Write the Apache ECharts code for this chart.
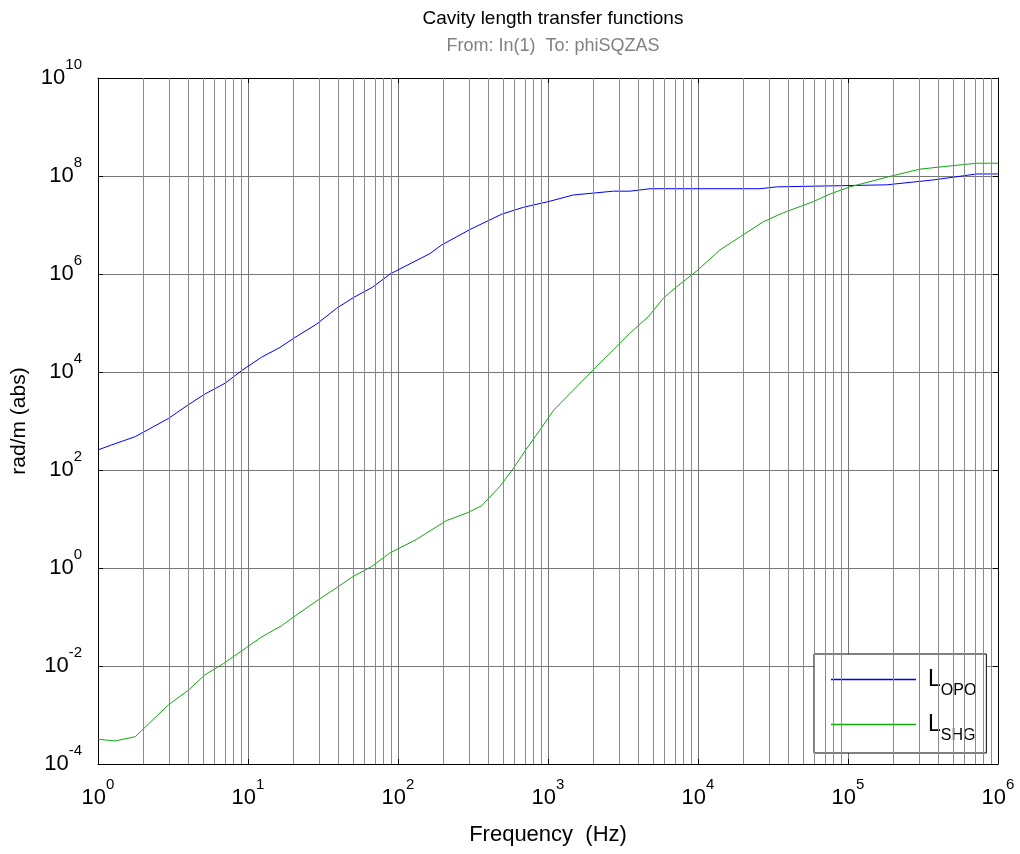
<!DOCTYPE html>
<html><head><meta charset="utf-8">
<script src="https://cdn.jsdelivr.net/npm/echarts@6/dist/echarts.min.js"></script>
<style>html,body{margin:0;padding:0;background:#fff}#c{width:1020px;height:854px}</style>
</head><body><div id="c"></div>
<script>
const titleText = 'Cavity length transfer functions';
const subtitleText = 'From: In(1)  To: phiSQZAS';
const xAxisName = 'Frequency  (Hz)';
const yAxisName = 'rad/m (abs)';
const seriesNames = ['L_OPO', 'L_SHG'];

// L_OPO transfer function magnitude
const opoFreq = [1, 1.23, 1.77, 2.94, 4.0, 5.16, 7.03, 9.08, 12.3, 16.3, 20.6, 28.7, 39.0, 50.4, 67.8, 88.5, 163, 195, 302, 491, 686, 1005, 1476, 2730, 3520, 4790, 25900, 33400, 181000, 369000, 721000, 1000000];
const opoMag = [257, 324, 479, 1120, 2140, 3550, 5890, 1.07e4, 2.0e4, 3.16e4, 5.1e4, 9.5e4, 2.0e5, 3.3e5, 5.4e5, 1.0e6, 2.6e6, 3.9e6, 8.1e6, 1.66e7, 2.3e7, 3.0e7, 4.1e7, 4.9e7, 4.9e7, 5.5e7, 5.5e7, 6.0e7, 6.6e7, 8.3e7, 1.1e8, 1.1e8];

// L_SHG transfer function magnitude
const shgFreq = [1, 1.30, 1.77, 2.94, 4.0, 5.16, 6.86, 9.8, 12.3, 16.7, 20.6, 29.4, 40, 49.1, 66.7, 88.5, 130, 211, 287, 361, 479, 587, 703, 885, 1090, 1476, 2000, 2870, 3520, 4670, 5870, 7210, 9800, 14000, 19100, 27300, 37100, 58700, 75900, 103000, 190000, 302000, 455000, 721000, 1000000];
const shgMag = [3.2e-4, 2.95e-4, 3.6e-4, 1.6e-3, 3.2e-3, 6.6e-3, 1.12e-2, 2.4e-2, 3.9e-2, 6.6e-2, 0.105, 0.224, 0.417, 0.646, 1.07, 2.04, 3.7, 9.3, 13.2, 18.6, 46.8, 107, 245, 661, 1660, 4270, 1.1e4, 3.3e4, 6.2e4, 1.35e5, 3.2e5, 5.5e5, 1.15e6, 3.1e6, 5.75e6, 1.17e7, 1.78e7, 3.0e7, 4.3e7, 6.0e7, 9.8e7, 1.38e8, 1.58e8, 1.82e8, 1.82e8];

// axis ranges and minor grid positions
const xMin = 1, xMax = 1e6;
const yMin = 1e-4, yMax = 1e10;
const yDecadeStep = 2;
const gridMultipliers = [2, 3, 4, 5, 6, 7, 8, 9];
const gridDecades = [1, 10, 100, 1000, 10000, 100000];

const FONT = "'Liberation Sans', Arial, sans-serif";
const minorGrid = [];
gridDecades.forEach(d => gridMultipliers.forEach(m => minorGrid.push({ xAxis: m * d })));

const pow10Label = v => '{b|10}{s|' + Math.round(Math.log10(v)) + '}';
const powRich = {
  b: { fontSize: 22, lineHeight: 26, fontFamily: FONT, color: '#000' },
  s: { fontSize: 15, lineHeight: 17, fontFamily: FONT, color: '#000', padding: [0, 0, 27, 0] }
};

const zip = (a, b) => a.map((v, i) => [v, b[i]]);

const chart = echarts.init(document.getElementById('c'), null, { renderer: 'canvas' });
chart.setOption({
  animation: false,
  backgroundColor: '#fff',
  title: {
    text: titleText, subtext: subtitleText,
    left: 548, top: 4, textAlign: 'center', itemGap: 9,
    textStyle: { fontSize: 19, fontWeight: 'normal', color: '#000', fontFamily: FONT },
    subtextStyle: { fontSize: 18, color: '#808080', fontFamily: FONT }
  },
  grid: { left: 98, right: 22, top: 78, bottom: 90, containLabel: false, outerBoundsMode: 'none' },
  legend: {
    data: seriesNames,
    orient: 'vertical',
    left: 814, top: 654,
    padding: [6, 10, 9, 17],
    itemGap: 6,
    itemWidth: 85, itemHeight: 1.5,
    icon: 'rect',
    backgroundColor: '#fff', borderColor: '#000', borderWidth: 1,
    formatter: name => { const p = name.split('_'); return '{l|' + p[0] + '}{s|' + p[1] + '}'; },
    textStyle: {
      rich: {
        l: { fontSize: 23, lineHeight: 26, fontFamily: FONT, color: '#000', padding: [0, 0, 0, 7] },
        s: { fontSize: 16, lineHeight: 18, fontFamily: FONT, color: '#000', padding: [23, 0, 0, 0] }
      }
    }
  },
  xAxis: [{
    type: 'log', logBase: 10, min: xMin, max: xMax, splitNumber: 6,
    name: xAxisName, nameLocation: 'middle', nameGap: 59,
    nameTextStyle: { fontSize: 22, fontFamily: FONT, color: '#000' },
    axisLine: { show: true, onZero: false, lineStyle: { color: '#000', width: 1 } },
    axisTick: { show: true, inside: true, length: 5, lineStyle: { color: '#000' } },
    axisLabel: { formatter: pow10Label, rich: powRich, margin: 21, showMinLabel: true, showMaxLabel: true },
    splitLine: { show: true, lineStyle: { color: '#777', width: 1 } },
    minorTick: { show: false }
  }, {
    type: 'log', logBase: 10, min: xMin, max: xMax, splitNumber: 6, position: 'top',
    axisLine: { show: true, onZero: false, lineStyle: { color: '#000', width: 1 } },
    axisTick: { show: true, inside: true, length: 5, lineStyle: { color: '#000' } },
    axisLabel: { show: false }, splitLine: { show: false }
  }],
  yAxis: [{
    type: 'log', logBase: 10, min: yMin, max: yMax, interval: yDecadeStep, splitNumber: 7,
    name: yAxisName, nameLocation: 'middle', nameGap: 62, nameRotate: 90,
    nameTextStyle: { fontSize: 21, fontFamily: FONT, color: '#000' },
    axisLine: { show: true, onZero: false, lineStyle: { color: '#000', width: 1 } },
    axisTick: { show: true, inside: true, length: 5, lineStyle: { color: '#000' } },
    axisLabel: { formatter: pow10Label, rich: powRich, margin: 16, showMinLabel: true, showMaxLabel: true },
    splitLine: { show: true, lineStyle: { color: '#777', width: 1 } }
  }, {
    type: 'log', logBase: 10, min: yMin, max: yMax, interval: yDecadeStep, splitNumber: 7, position: 'right',
    axisLine: { show: true, onZero: false, lineStyle: { color: '#000', width: 1 } },
    axisTick: { show: true, inside: true, length: 5, lineStyle: { color: '#000' } },
    axisLabel: { show: false }, splitLine: { show: false }
  }],
  series: [{
    name: 'grid', type: 'line', data: [], silent: true, xAxisIndex: 0, yAxisIndex: 0,
    markLine: {
      silent: true, symbol: ['none', 'none'], animation: false,
      label: { show: false },
      lineStyle: { color: '#8a8a8a', width: 1, type: 'solid' },
      emphasis: { disabled: true },
      data: minorGrid
    }
  }, {
    name: seriesNames[0], type: 'line', data: zip(opoFreq, opoMag),
    showSymbol: false, symbol: 'none', clip: true,
    lineStyle: { color: '#0000ff', width: 1 }, itemStyle: { color: '#0000ff' }
  }, {
    name: seriesNames[1], type: 'line', data: zip(shgFreq, shgMag),
    showSymbol: false, symbol: 'none', clip: true,
    lineStyle: { color: '#10a810', width: 1 }, itemStyle: { color: '#10a810' }
  }]
});
</script>
</body></html>
